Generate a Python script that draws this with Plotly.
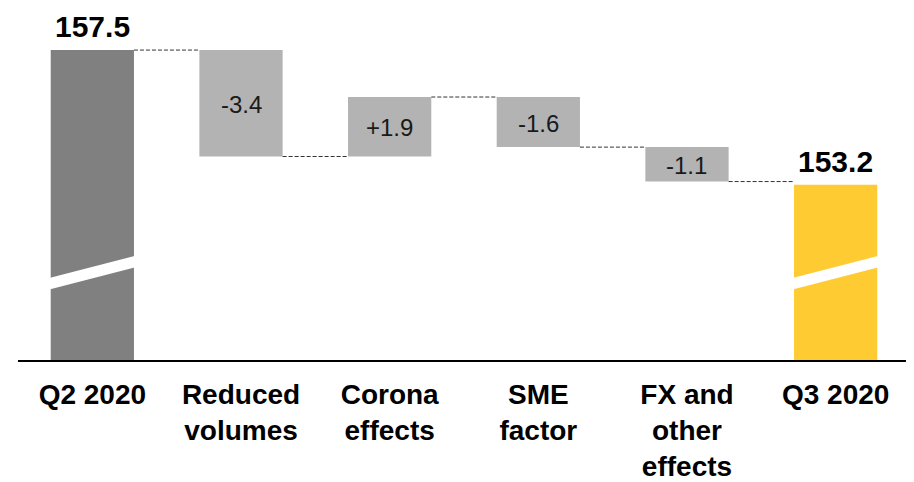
import plotly.graph_objects as go

# ---- data ----
categories = ["Q2 2020", "Reduced<br>volumes", "Corona<br>effects", "SME<br>factor",
              "FX and<br>other<br>effects", "Q3 2020"]
start_value = 157.5
delta_values = [-3.4, 1.9, -1.6, -1.1]
end_value = 153.2
delta_labels = ["-3.4", "+1.9", "-1.6", "-1.1"]

# ---- styling ----
FONT = "Liberation Sans, Arial, sans-serif"
C_START = "#808080"
C_DELTA = "#b3b3b3"
C_END = "#ffcb33"
BAR_W = 0.56
Y_MIN, Y_MAX = 147.6, 158.78

fig = go.Figure()

# total bars
fig.add_trace(go.Bar(
    x=[categories[0], categories[-1]], y=[start_value, end_value],
    width=BAR_W, marker=dict(color=[C_START, C_END], line=dict(width=0)),
    hoverinfo="skip", cliponaxis=False,
))

# floating delta bars
levels = [start_value]
for d in delta_values:
    levels.append(levels[-1] + d)
fig.add_trace(go.Bar(
    x=categories[1:-1], y=delta_values, base=levels[:-1],
    width=BAR_W, marker=dict(color=C_DELTA, line=dict(width=0)),
    hoverinfo="skip",
))

# delta labels (centered in bars)
for i, (d, lab) in enumerate(zip(delta_values, delta_labels)):
    fig.add_annotation(x=categories[i + 1], y=levels[i] + d / 2, text=lab,
                       showarrow=False, yanchor="middle", yshift=-1,
                       font=dict(family=FONT, size=24, color="#1a1a1a"))

# total labels
for xi, v in [(0, start_value), (len(categories) - 1, end_value)]:
    fig.add_annotation(x=categories[xi], y=v, text=f"<b>{v:.1f}</b>",
                       showarrow=False, yanchor="bottom", yshift=5,
                       font=dict(family=FONT, size=30, color="black"))

# connectors
for i in range(len(categories) - 1):
    lvl = levels[i]
    fig.add_shape(type="line", xref="x", yref="y",
                  x0=i + BAR_W / 2, x1=i + 1 - BAR_W / 2, y0=lvl, y1=lvl,
                  line=dict(color="#333333", width=1, dash="4px,2px"))

# axis break marks on the total bars
for i in [0, len(categories) - 1]:
    x0, x1 = i - BAR_W / 2 - 0.01, i + BAR_W / 2 + 0.01
    fig.add_shape(type="path", xref="x", yref="y",
                  path=f"M {x0},149.85 L {x1},150.56 L {x1},150.93 L {x0},150.22 Z",
                  fillcolor="white", line=dict(width=0), layer="above")

# the page adds an 8px body margin, so the figure is 8px smaller and offset
fig.update_layout(
    width=906, height=474,
    margin=dict(l=10, r=0, t=2, b=122),
    plot_bgcolor="white", paper_bgcolor="white",
    showlegend=False, bargap=0.44,
    font=dict(family=FONT, color="black"),
)
fig.update_xaxes(
    type="category", categoryorder="array", categoryarray=categories,
    range=[-0.5, 5.527], automargin=False,
    showline=True, linecolor="black", linewidth=2,
    showgrid=False, ticks="", ticklabelstandoff=8,
    tickfont=dict(family=FONT, size=28, color="black"),
    tickmode="array", tickvals=categories,
    ticktext=[f"<b>{c}</b>" for c in categories],
)
fig.update_yaxes(range=[Y_MIN, Y_MAX], visible=False, showgrid=False,
                 zeroline=False, automargin=False)

fig.write_html("out.html")
